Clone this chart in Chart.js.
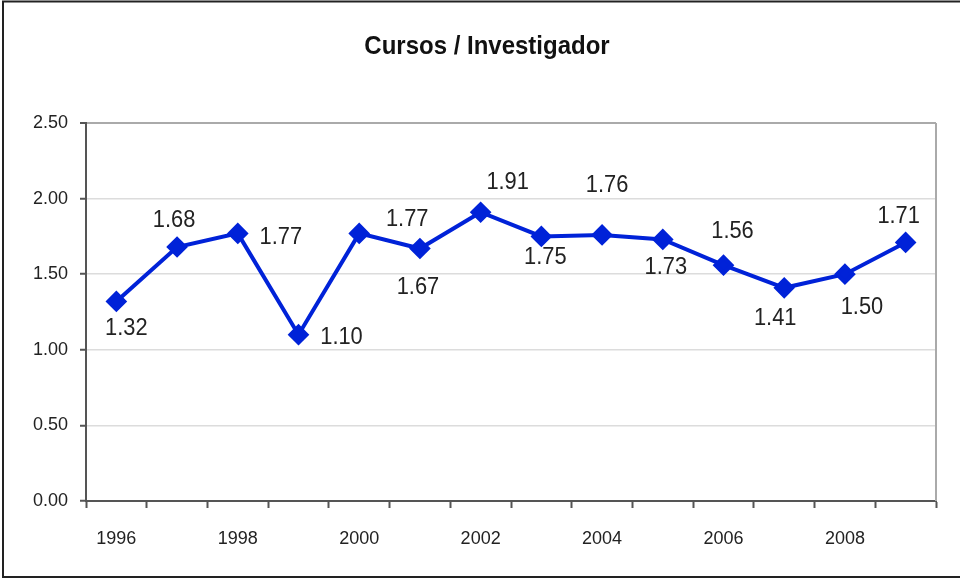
<!DOCTYPE html>
<html>
<head>
<meta charset="utf-8">
<script src="https://cdn.jsdelivr.net/npm/chart.js@4"></script>
<style>
	html, body { margin: 0; padding: 0; background: #fff; }
	#wrap { width: 960px; height: 579px; }
</style>
</head>
<body>
<div id="wrap"><canvas id="chart" width="960" height="579"></canvas></div>
<script>
const years = ["1996", "1997", "1998", "1999", "2000", "2001", "2002", "2003", "2004", "2005", "2006", "2007", "2008", "2009"];
const cursos = [1.32, 1.68, 1.77, 1.10, 1.77, 1.67, 1.91, 1.75, 1.76, 1.73, 1.56, 1.41, 1.50, 1.71];
const yTicks = [0, 0.5, 1, 1.5, 2, 2.5];
const titleText = "Cursos / Investigador";

// label offsets relative to each point (dx, dy)
const labelOffsets = [
	[10, 27], [-3, -26], [43, 4], [43, 3], [48, -14], [-2, 39], [27, -30],
	[4, 21], [5, -49], [3, 28], [9, -33], [-9, 31], [17, 33], [-7, -26],
];

const FONT = "'Liberation Sans', Arial, sans-serif";
const blue = "#0022d8";

const decorPlugin = {
	id: "decor",
	beforeDraw(chart) {
		const ctx = chart.ctx;
		ctx.save();
		ctx.fillStyle = "#fff";
		ctx.fillRect(0, 0, chart.width, chart.height);
		ctx.restore();
	},
	afterDraw(chart) {
		const ctx = chart.ctx;
		const area = chart.chartArea;
		ctx.save();
		// title, slightly condensed
		ctx.font = "bold 25px " + FONT;
		ctx.fillStyle = "#111";
		ctx.textAlign = "center";
		ctx.textBaseline = "middle";
		ctx.translate(487, 47);
		ctx.scale(0.96, 1);
		ctx.fillText(titleText, 0, 0);
		ctx.restore();

		ctx.save();
		// right border of plot
		ctx.strokeStyle = "#aaa";
		ctx.lineWidth = 2;
		ctx.beginPath();
		ctx.moveTo(area.right, area.top);
		ctx.lineTo(area.right, area.bottom);
		ctx.stroke();
		// outer frame
		ctx.strokeStyle = "#222";
		ctx.lineWidth = 2;
		ctx.strokeRect(3, 1.5, 1000, 575.5);
		ctx.restore();
	},
	afterDatasetsDraw(chart) {
		const ctx = chart.ctx;
		const meta = chart.getDatasetMeta(0);
		meta.data.forEach((pt, i) => {
			const off = labelOffsets[i];
			ctx.save();
			ctx.font = "23px " + FONT;
			ctx.fillStyle = "#222";
			ctx.textAlign = "center";
			ctx.textBaseline = "middle";
			ctx.translate(pt.x + off[0], pt.y + off[1]);
			ctx.scale(0.95, 1);
			ctx.fillText(cursos[i].toFixed(2), 0, 0);
			ctx.restore();
		});
	},
};

new Chart(document.getElementById("chart"), {
	type: "line",
	data: {
		labels: years,
		datasets: [
			{
				data: cursos,
				borderColor: blue,
				backgroundColor: blue,
				borderWidth: 4,
				pointStyle: "rectRot",
				pointRadius: 8,
				pointBackgroundColor: blue,
				pointBorderColor: blue,
				tension: 0,
			},
		],
	},
	options: {
		responsive: false,
		animation: false,
		layout: { padding: { left: 0, top: 123, right: 24, bottom: 0 } },
		plugins: {
			legend: { display: false },
			title: { display: false },
			tooltip: { enabled: false },
		},
		scales: {
			x: {
				offset: true,
				grid: {
					offset: true,
					drawOnChartArea: false,
					tickLength: 7,
					tickColor: "#555",
					tickWidth: 2,
				},
				border: { color: "#555", width: 2 },
				ticks: {
					autoSkip: false,
					maxRotation: 0,
					padding: 20,
					color: "#222",
					font: { family: FONT, size: 18 },
					callback: function (value, index) {
						return index % 2 === 0 ? years[index] : "";
					},
				},
				afterFit(scale) {
					scale.height = 78;
				},
			},
			y: {
				min: 0,
				max: 2.5,
				afterBuildTicks(scale) {
					scale.ticks = yTicks.map((v) => ({ value: v }));
				},
				grid: {
					color: (c) => (c.tick && c.tick.value === 2.5 ? "#aaa" : "#dcdcdc"),
					lineWidth: (c) => (c.tick && c.tick.value === 2.5 ? 2 : 1.5),
					tickLength: 6,
					tickColor: "#555",
					tickWidth: 2,
				},
				border: { color: "#555", width: 2 },
				ticks: {
					padding: 12,
					color: "#222",
					font: { family: FONT, size: 18 },
					callback: (v) => Number(v).toFixed(2),
				},
				afterFit(scale) {
					scale.width = 86;
				},
			},
		},
	},
	plugins: [decorPlugin],
});
</script>
</body>
</html>
